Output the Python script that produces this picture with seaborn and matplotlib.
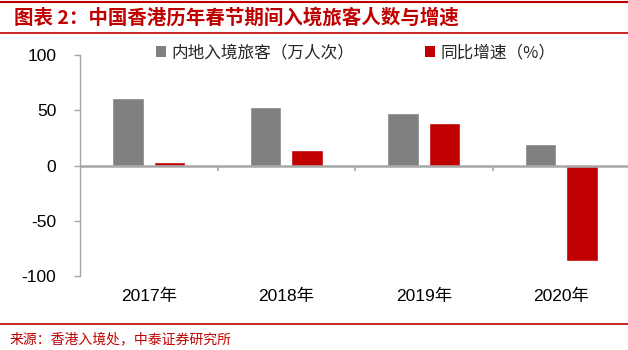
import matplotlib
matplotlib.use("Agg")
import matplotlib.pyplot as plt
import seaborn as sns
import pandas as pd
from matplotlib.lines import Line2D
from matplotlib.patches import Patch

years = ["2017年", "2018年", "2019年", "2020年"]
series_names = ["内地入境旅客（万人次）", "同比增速（%）"]
visitors = [61.5, 52.7, 47.9, 19.7]
growth = [3.3, 13.6, 38.8, -86.4]
yticks = [-100, -50, 0, 50, 100]

title = "图表 2：中国香港历年春节期间入境旅客人数与增速"
source = "来源：香港入境处，中泰证券研究所"

GRAY = "#808080"
RED = "#C00000"
AXC = "#A6A6A6"

sns.set_theme(style="white")
plt.rcParams["font.family"] = ["Liberation Sans", "Noto Sans CJK SC", "DejaVu Sans"]
plt.rcParams["axes.unicode_minus"] = False
plt.rcParams["axes.edgecolor"] = AXC

df = pd.DataFrame({
    "year": years * 2,
    "series": [series_names[0]] * 4 + [series_names[1]] * 4,
    "value": visitors + growth,
})

fig = plt.figure(figsize=(6.28, 3.5), dpi=100)
ax = fig.add_axes([80 / 628, 74 / 350, 550 / 628, 221 / 350])

sns.barplot(data=df, x="year", y="value", hue="series", order=years,
            hue_order=series_names, palette=[GRAY, RED], width=0.6, gap=0.24,
            ax=ax, legend=False, saturation=1)

ax.set_xlim(-0.5, 3.5)
ax.set_ylim(-100, 100)
ax.set_yticks(yticks)
ax.set_xlabel("")
ax.set_ylabel("")
for s in ["top", "right", "bottom"]:
    ax.spines[s].set_visible(False)
ax.spines["left"].set_color(AXC)
ax.spines["left"].set_linewidth(1.0)
ax.tick_params(axis="y", which="major", left=True, length=4, width=1, color=AXC,
               labelsize=12.5, pad=13, labelcolor="black")
ax.tick_params(axis="x", length=0, labelsize=12.5, pad=9, labelcolor="black")

# zero axis line with category separator ticks
ax.axhline(0, color=AXC, lw=1.8, zorder=5)
boundaries = [i + 0.5 for i in range(len(years) - 1)]
ax.vlines(boundaries, 0, -5, color=AXC, lw=1.2, zorder=5)

# legend
handles = [Patch(facecolor=GRAY, edgecolor="none"), Patch(facecolor=RED, edgecolor="none")]
fig.legend(handles, series_names, loc="center left", bbox_to_anchor=(141 / 628, 1 - 53 / 350),
           ncol=2, frameon=False, handlelength=0.6, handleheight=0.6,
           handletextpad=0.35, columnspacing=4.2, prop={"family": ["Noto Sans CJK SC"], "size": 12})

# title and source with red rules
fig.add_artist(Line2D([0, 1], [1 - 2 / 350, 1 - 2 / 350], color=RED, lw=1.5, transform=fig.transFigure))
fig.add_artist(Line2D([0, 1], [1 - 33 / 350, 1 - 33 / 350], color=RED, lw=1.2, transform=fig.transFigure))
fig.text(14 / 628, 1 - 18 / 350, title, color=RED, fontsize=14, fontweight="bold",
         va="center", ha="left", family=["Noto Sans CJK SC", "DejaVu Sans"])
fig.add_artist(Line2D([0, 1], [1 - 324 / 350, 1 - 324 / 350], color=RED, lw=1.2, transform=fig.transFigure))
fig.text(10 / 628, 1 - 340 / 350, source, color=RED, fontsize=10,
         va="center", ha="left", family=["Noto Sans CJK SC", "DejaVu Sans"])

fig.savefig("out.png", dpi=100)
